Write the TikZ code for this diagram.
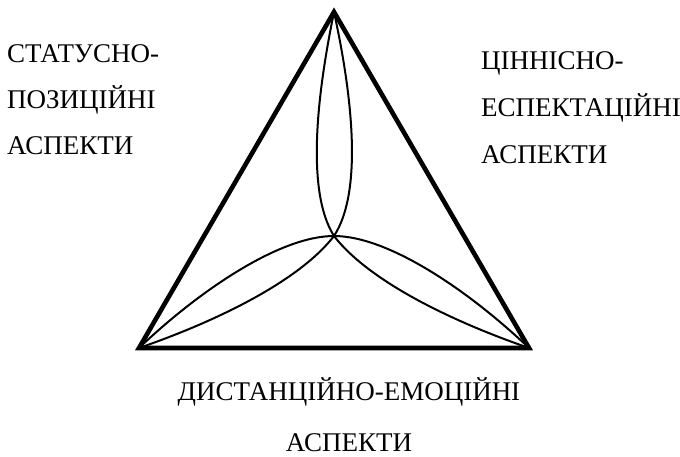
\documentclass[tikz,border=0pt]{standalone}
\usepackage{fontspec}
\setmainfont{Liberation Serif}
\begin{document}
\begin{tikzpicture}[x=1pt,y=-1pt,
  tri/.style={line width=4.6pt,line join=miter},
  petal/.style={line width=2pt},
  lbl/.style={anchor=base west,inner sep=0pt,font=\fontsize{27}{32}\selectfont},
  lblc/.style={anchor=base,inner sep=0pt,font=\fontsize{27}{32}\selectfont}]
\useasboundingbox (0,0) rectangle (680,456);
\coordinate (T) at (334,12);
\coordinate (L) at (139,348);
\coordinate (R) at (529,348);
\coordinate (C) at (334,236);
% petals
\draw[petal] (T) .. controls (318,90) and (305,190) .. (C);
\draw[petal] (T) .. controls (351,90) and (364,190) .. (C);
\draw[petal] (L) .. controls (200,290) and (280,236) .. (C);
\draw[petal] (L) .. controls (220,320) and (300,280) .. (C);
\draw[petal] (R) .. controls (468,290) and (388,236) .. (C);
\draw[petal] (R) .. controls (448,320) and (368,280) .. (C);
% triangle
\draw[tri] (T) -- (L) -- (R) -- cycle;
% labels
\node[lbl] (a1) at (7,62) {СТАТУСНО-};
\node[lbl] (a2) at (7,108) {ПОЗИЦІЙНІ};
\node[lbl] (a3) at (7,154) {АСПЕКТИ};
\node[lbl] (b1) at (481,69) {ЦІННІСНО-};
\node[lbl] (b2) at (481,116) {ЕСПЕКТАЦІЙНІ};
\node[lbl] (b3) at (481,163) {АСПЕКТИ};
\node[lblc] (c1) at (349,400) {ДИСТАНЦІЙНО-ЕМОЦІЙНІ};
\node[lblc] (c2) at (349,451) {АСПЕКТИ};
\end{tikzpicture}
\end{document}
